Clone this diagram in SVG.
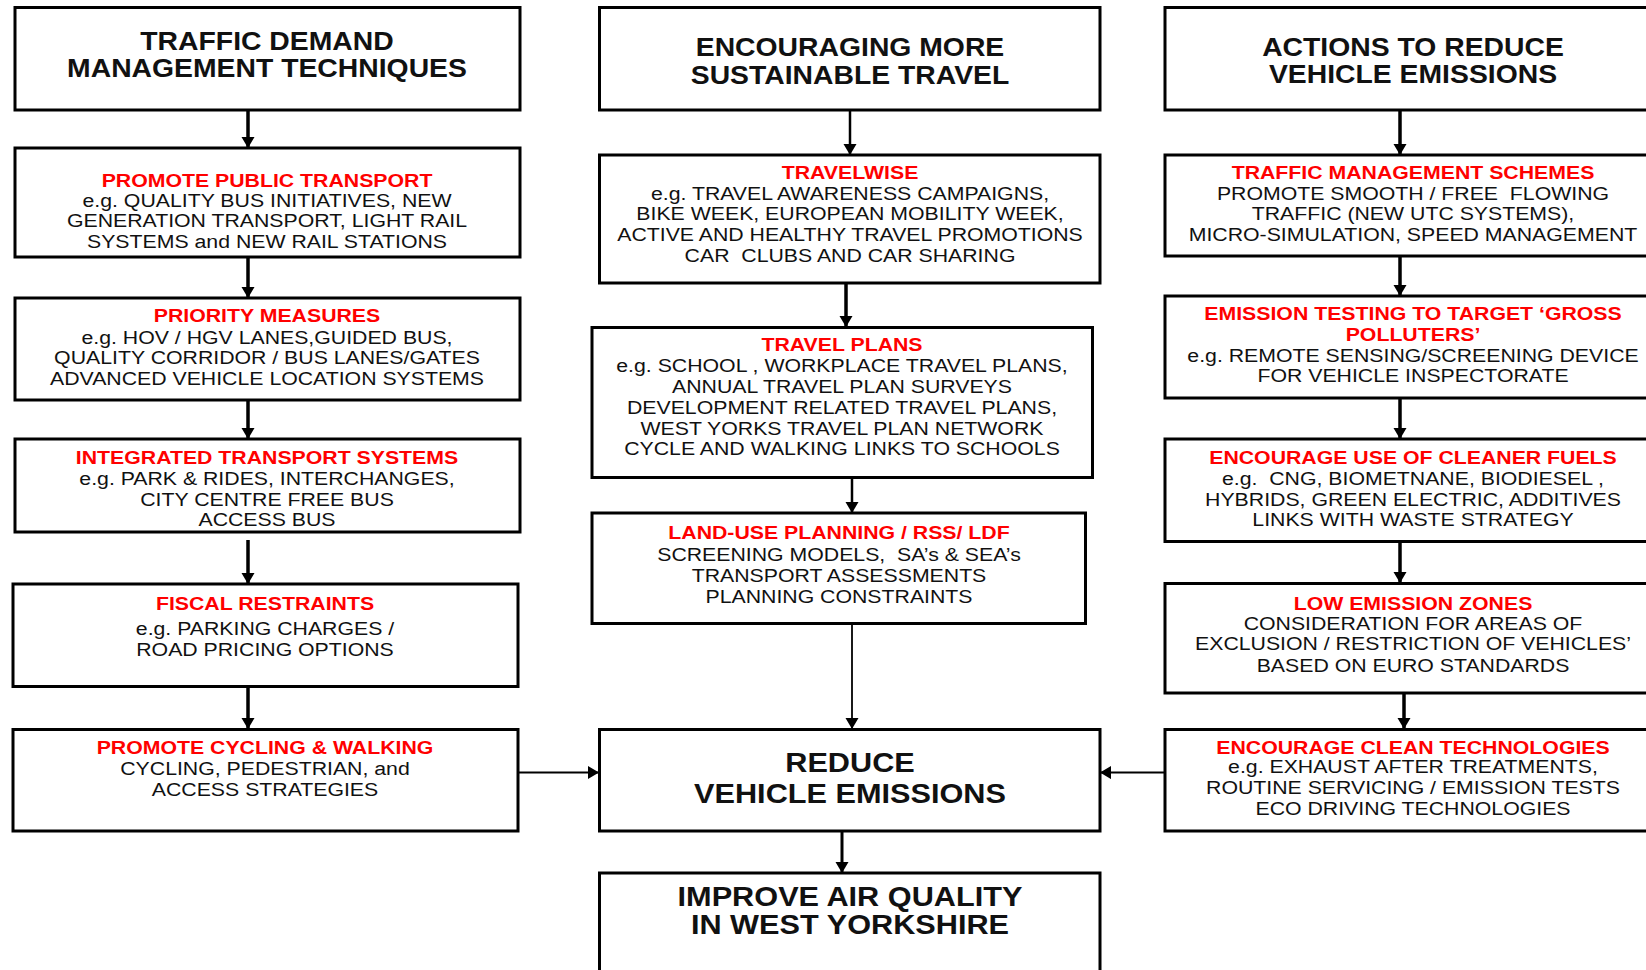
<svg xmlns="http://www.w3.org/2000/svg" width="1646" height="970" viewBox="0 0 1646 970">
<defs>
<marker id="ah" markerUnits="userSpaceOnUse" markerWidth="14" markerHeight="14" refX="11" refY="6.5" orient="auto">
<path d="M0,0 L11,6.5 L0,13 z" fill="#000"/>
</marker>
<style>
.box{fill:#fff;stroke:#000;stroke-width:3}
text{font-family:"Liberation Sans",Arial,sans-serif;text-anchor:middle;white-space:pre}
.h{font-weight:bold;font-size:25.3px;fill:#111}
.hb{font-weight:bold;font-size:27.4px;fill:#111}
.r{font-weight:bold;font-size:19px;fill:#ff0000}
.b{font-size:19px;fill:#111}
.c{stroke:#000;fill:none}
</style>
</defs>
<rect width="1646" height="970" fill="#fff"/>

<g id="connectors">
<line class="c" x1="248" y1="110" x2="248" y2="148" stroke-width="3.5" marker-end="url(#ah)"/>
<line class="c" x1="248" y1="257" x2="248" y2="298" stroke-width="3.5" marker-end="url(#ah)"/>
<line class="c" x1="248" y1="400" x2="248" y2="439" stroke-width="3.5" marker-end="url(#ah)"/>
<line class="c" x1="248" y1="540" x2="248" y2="584" stroke-width="3.5" marker-end="url(#ah)"/>
<line class="c" x1="248" y1="686" x2="248" y2="729" stroke-width="3.5" marker-end="url(#ah)"/>
<line class="c" x1="850" y1="110" x2="850" y2="155" stroke-width="2.5" marker-end="url(#ah)"/>
<line class="c" x1="846" y1="283" x2="846" y2="327" stroke-width="3.5" marker-end="url(#ah)"/>
<line class="c" x1="852" y1="477" x2="852" y2="513" stroke-width="2.5" marker-end="url(#ah)"/>
<line class="c" x1="852" y1="623" x2="852" y2="729" stroke-width="1.8" marker-end="url(#ah)"/>
<line class="c" x1="842" y1="831" x2="842" y2="873" stroke-width="3" marker-end="url(#ah)"/>
<line class="c" x1="1400" y1="110" x2="1400" y2="155" stroke-width="3.5" marker-end="url(#ah)"/>
<line class="c" x1="1400" y1="256" x2="1400" y2="296" stroke-width="3.5" marker-end="url(#ah)"/>
<line class="c" x1="1400" y1="398" x2="1400" y2="439" stroke-width="3.5" marker-end="url(#ah)"/>
<line class="c" x1="1400" y1="541" x2="1400" y2="583" stroke-width="3.5" marker-end="url(#ah)"/>
<line class="c" x1="1404" y1="693" x2="1404" y2="729" stroke-width="3.5" marker-end="url(#ah)"/>
<line class="c" x1="517" y1="772.6" x2="599" y2="772.6" stroke-width="2" marker-end="url(#ah)"/>
<line class="c" x1="1165" y1="772.6" x2="1100" y2="772.6" stroke-width="2" marker-end="url(#ah)"/>
</g>

<g id="tdm-title">
<rect class="box" x="15" y="7.5" width="505" height="102.5"/>
<g transform="translate(267 0) scale(1.12 1)">
<text class="h" x="0" y="50">TRAFFIC DEMAND</text>
<text class="h" x="0" y="77">MANAGEMENT TECHNIQUES</text>
</g>
</g>

<g id="public-transport">
<rect class="box" x="15" y="148" width="505" height="109"/>
<g transform="translate(267 0) scale(1.12 1)">
<text class="r" x="0" y="187">PROMOTE PUBLIC TRANSPORT</text>
<text class="b" x="0" y="207">e.g. QUALITY BUS INITIATIVES, NEW</text>
<text class="b" x="0" y="227">GENERATION TRANSPORT, LIGHT RAIL</text>
<text class="b" x="0" y="248">SYSTEMS and NEW RAIL STATIONS</text>
</g>
</g>

<g id="priority">
<rect class="box" x="15" y="298" width="505" height="102"/>
<g transform="translate(267 0) scale(1.12 1)">
<text class="r" x="0" y="322">PRIORITY MEASURES</text>
<text class="b" x="0" y="344">e.g. HOV / HGV LANES,GUIDED BUS,</text>
<text class="b" x="0" y="364">QUALITY CORRIDOR / BUS LANES/GATES</text>
<text class="b" x="0" y="385">ADVANCED VEHICLE LOCATION SYSTEMS</text>
</g>
</g>

<g id="integrated">
<rect class="box" x="15" y="439" width="505" height="93"/>
<g transform="translate(267 0) scale(1.12 1)">
<text class="r" x="0" y="464">INTEGRATED TRANSPORT SYSTEMS</text>
<text class="b" x="0" y="485">e.g. PARK &amp; RIDES, INTERCHANGES,</text>
<text class="b" x="0" y="506">CITY CENTRE FREE BUS</text>
<text class="b" x="0" y="526">ACCESS BUS</text>
</g>
</g>

<g id="fiscal">
<rect class="box" x="13" y="584" width="505" height="102.5"/>
<g transform="translate(265 0) scale(1.12 1)">
<text class="r" x="0" y="610">FISCAL RESTRAINTS</text>
<text class="b" x="0" y="635">e.g. PARKING CHARGES /</text>
<text class="b" x="0" y="656">ROAD PRICING OPTIONS</text>
</g>
</g>

<g id="cycling">
<rect class="box" x="13" y="729.5" width="505" height="101.5"/>
<g transform="translate(265 0) scale(1.12 1)">
<text class="r" x="0" y="754">PROMOTE CYCLING &amp; WALKING</text>
<text class="b" x="0" y="775">CYCLING, PEDESTRIAN, and</text>
<text class="b" x="0" y="796">ACCESS STRATEGIES</text>
</g>
</g>

<g id="sustainable-title">
<rect class="box" x="599.5" y="7.5" width="500.5" height="102.5"/>
<g transform="translate(850 0) scale(1.12 1)">
<text class="h" x="0" y="56">ENCOURAGING MORE</text>
<text class="h" x="0" y="84">SUSTAINABLE TRAVEL</text>
</g>
</g>

<g id="travelwise">
<rect class="box" x="599.5" y="155" width="500.5" height="128"/>
<g transform="translate(850 0) scale(1.12 1)">
<text class="r" x="0" y="179.5">TRAVELWISE</text>
<text class="b" x="0" y="200.5">e.g. TRAVEL AWARENESS CAMPAIGNS,</text>
<text class="b" x="0" y="220.5">BIKE WEEK, EUROPEAN MOBILITY WEEK,</text>
<text class="b" x="0" y="241.5">ACTIVE AND HEALTHY TRAVEL PROMOTIONS</text>
<text class="b" x="0" y="262.5">CAR  CLUBS AND CAR SHARING</text>
</g>
</g>

<g id="travel-plans">
<rect class="box" x="592" y="327.5" width="500.5" height="150"/>
<g transform="translate(842 0) scale(1.12 1)">
<text class="r" x="0" y="351.5">TRAVEL PLANS</text>
<text class="b" x="0" y="372.5">e.g. SCHOOL , WORKPLACE TRAVEL PLANS,</text>
<text class="b" x="0" y="393.5">ANNUAL TRAVEL PLAN SURVEYS</text>
<text class="b" x="0" y="414.5">DEVELOPMENT RELATED TRAVEL PLANS,</text>
<text class="b" x="0" y="435.5">WEST YORKS TRAVEL PLAN NETWORK</text>
<text class="b" x="0" y="455.5">CYCLE AND WALKING LINKS TO SCHOOLS</text>
</g>
</g>

<g id="land-use">
<rect class="box" x="592" y="513" width="493.5" height="110.5"/>
<g transform="translate(839 0) scale(1.12 1)">
<text class="r" x="0" y="539.5">LAND-USE PLANNING / RSS/ LDF</text>
<text class="b" x="0" y="561.5">SCREENING MODELS,  SA’s &amp; SEA’s</text>
<text class="b" x="0" y="582.5">TRANSPORT ASSESSMENTS</text>
<text class="b" x="0" y="603.5">PLANNING CONSTRAINTS</text>
</g>
</g>

<g id="reduce">
<rect class="box" x="599.5" y="729.5" width="500.5" height="101.5"/>
<g transform="translate(850 0) scale(1.12 1)">
<text class="hb" x="0" y="772.5">REDUCE</text>
<text class="hb" x="0" y="803">VEHICLE EMISSIONS</text>
</g>
</g>

<g id="improve">
<rect class="box" x="599.5" y="873" width="500.5" height="120"/>
<g transform="translate(850 0) scale(1.12 1)">
<text class="hb" x="0" y="906">IMPROVE AIR QUALITY</text>
<text class="hb" x="0" y="934">IN WEST YORKSHIRE</text>
</g>
</g>

<g id="emissions-title">
<rect class="box" x="1165" y="7.5" width="500" height="102.5"/>
<g transform="translate(1413 0) scale(1.12 1)">
<text class="h" x="0" y="56">ACTIONS TO REDUCE</text>
<text class="h" x="0" y="83.5">VEHICLE EMISSIONS</text>
</g>
</g>

<g id="traffic-management">
<rect class="box" x="1165" y="155" width="500" height="101"/>
<g transform="translate(1413 0) scale(1.12 1)">
<text class="r" x="0" y="179.5">TRAFFIC MANAGEMENT SCHEMES</text>
<text class="b" x="0" y="200.5">PROMOTE SMOOTH / FREE  FLOWING</text>
<text class="b" x="0" y="220.5">TRAFFIC (NEW UTC SYSTEMS),</text>
<text class="b" x="0" y="241.5">MICRO-SIMULATION, SPEED MANAGEMENT</text>
</g>
</g>

<g id="emission-testing">
<rect class="box" x="1165" y="296" width="500" height="102"/>
<g transform="translate(1413 0) scale(1.12 1)">
<text class="r" x="0" y="320">EMISSION TESTING TO TARGET ‘GROSS</text>
<text class="r" x="0" y="341">POLLUTERS’</text>
<text class="b" x="0" y="362">e.g. REMOTE SENSING/SCREENING DEVICE</text>
<text class="b" x="0" y="382">FOR VEHICLE INSPECTORATE</text>
</g>
</g>

<g id="cleaner-fuels">
<rect class="box" x="1165" y="439" width="500" height="102.5"/>
<g transform="translate(1413 0) scale(1.12 1)">
<text class="r" x="0" y="464">ENCOURAGE USE OF CLEANER FUELS</text>
<text class="b" x="0" y="485">e.g.  CNG, BIOMETNANE, BIODIESEL ,</text>
<text class="b" x="0" y="506">HYBRIDS, GREEN ELECTRIC, ADDITIVES</text>
<text class="b" x="0" y="526">LINKS WITH WASTE STRATEGY</text>
</g>
</g>

<g id="low-emission-zones">
<rect class="box" x="1165" y="583.5" width="500" height="109.5"/>
<g transform="translate(1413 0) scale(1.12 1)">
<text class="r" x="0" y="610">LOW EMISSION ZONES</text>
<text class="b" x="0" y="630">CONSIDERATION FOR AREAS OF</text>
<text class="b" x="0" y="650">EXCLUSION / RESTRICTION OF VEHICLES’</text>
<text class="b" x="0" y="672">BASED ON EURO STANDARDS</text>
</g>
</g>

<g id="clean-technologies">
<rect class="box" x="1165" y="729.5" width="500" height="101.5"/>
<g transform="translate(1413 0) scale(1.12 1)">
<text class="r" x="0" y="754">ENCOURAGE CLEAN TECHNOLOGIES</text>
<text class="b" x="0" y="773.5">e.g. EXHAUST AFTER TREATMENTS,</text>
<text class="b" x="0" y="794.5">ROUTINE SERVICING / EMISSION TESTS</text>
<text class="b" x="0" y="815.5">ECO DRIVING TECHNOLOGIES</text>
</g>
</g>
</svg>
